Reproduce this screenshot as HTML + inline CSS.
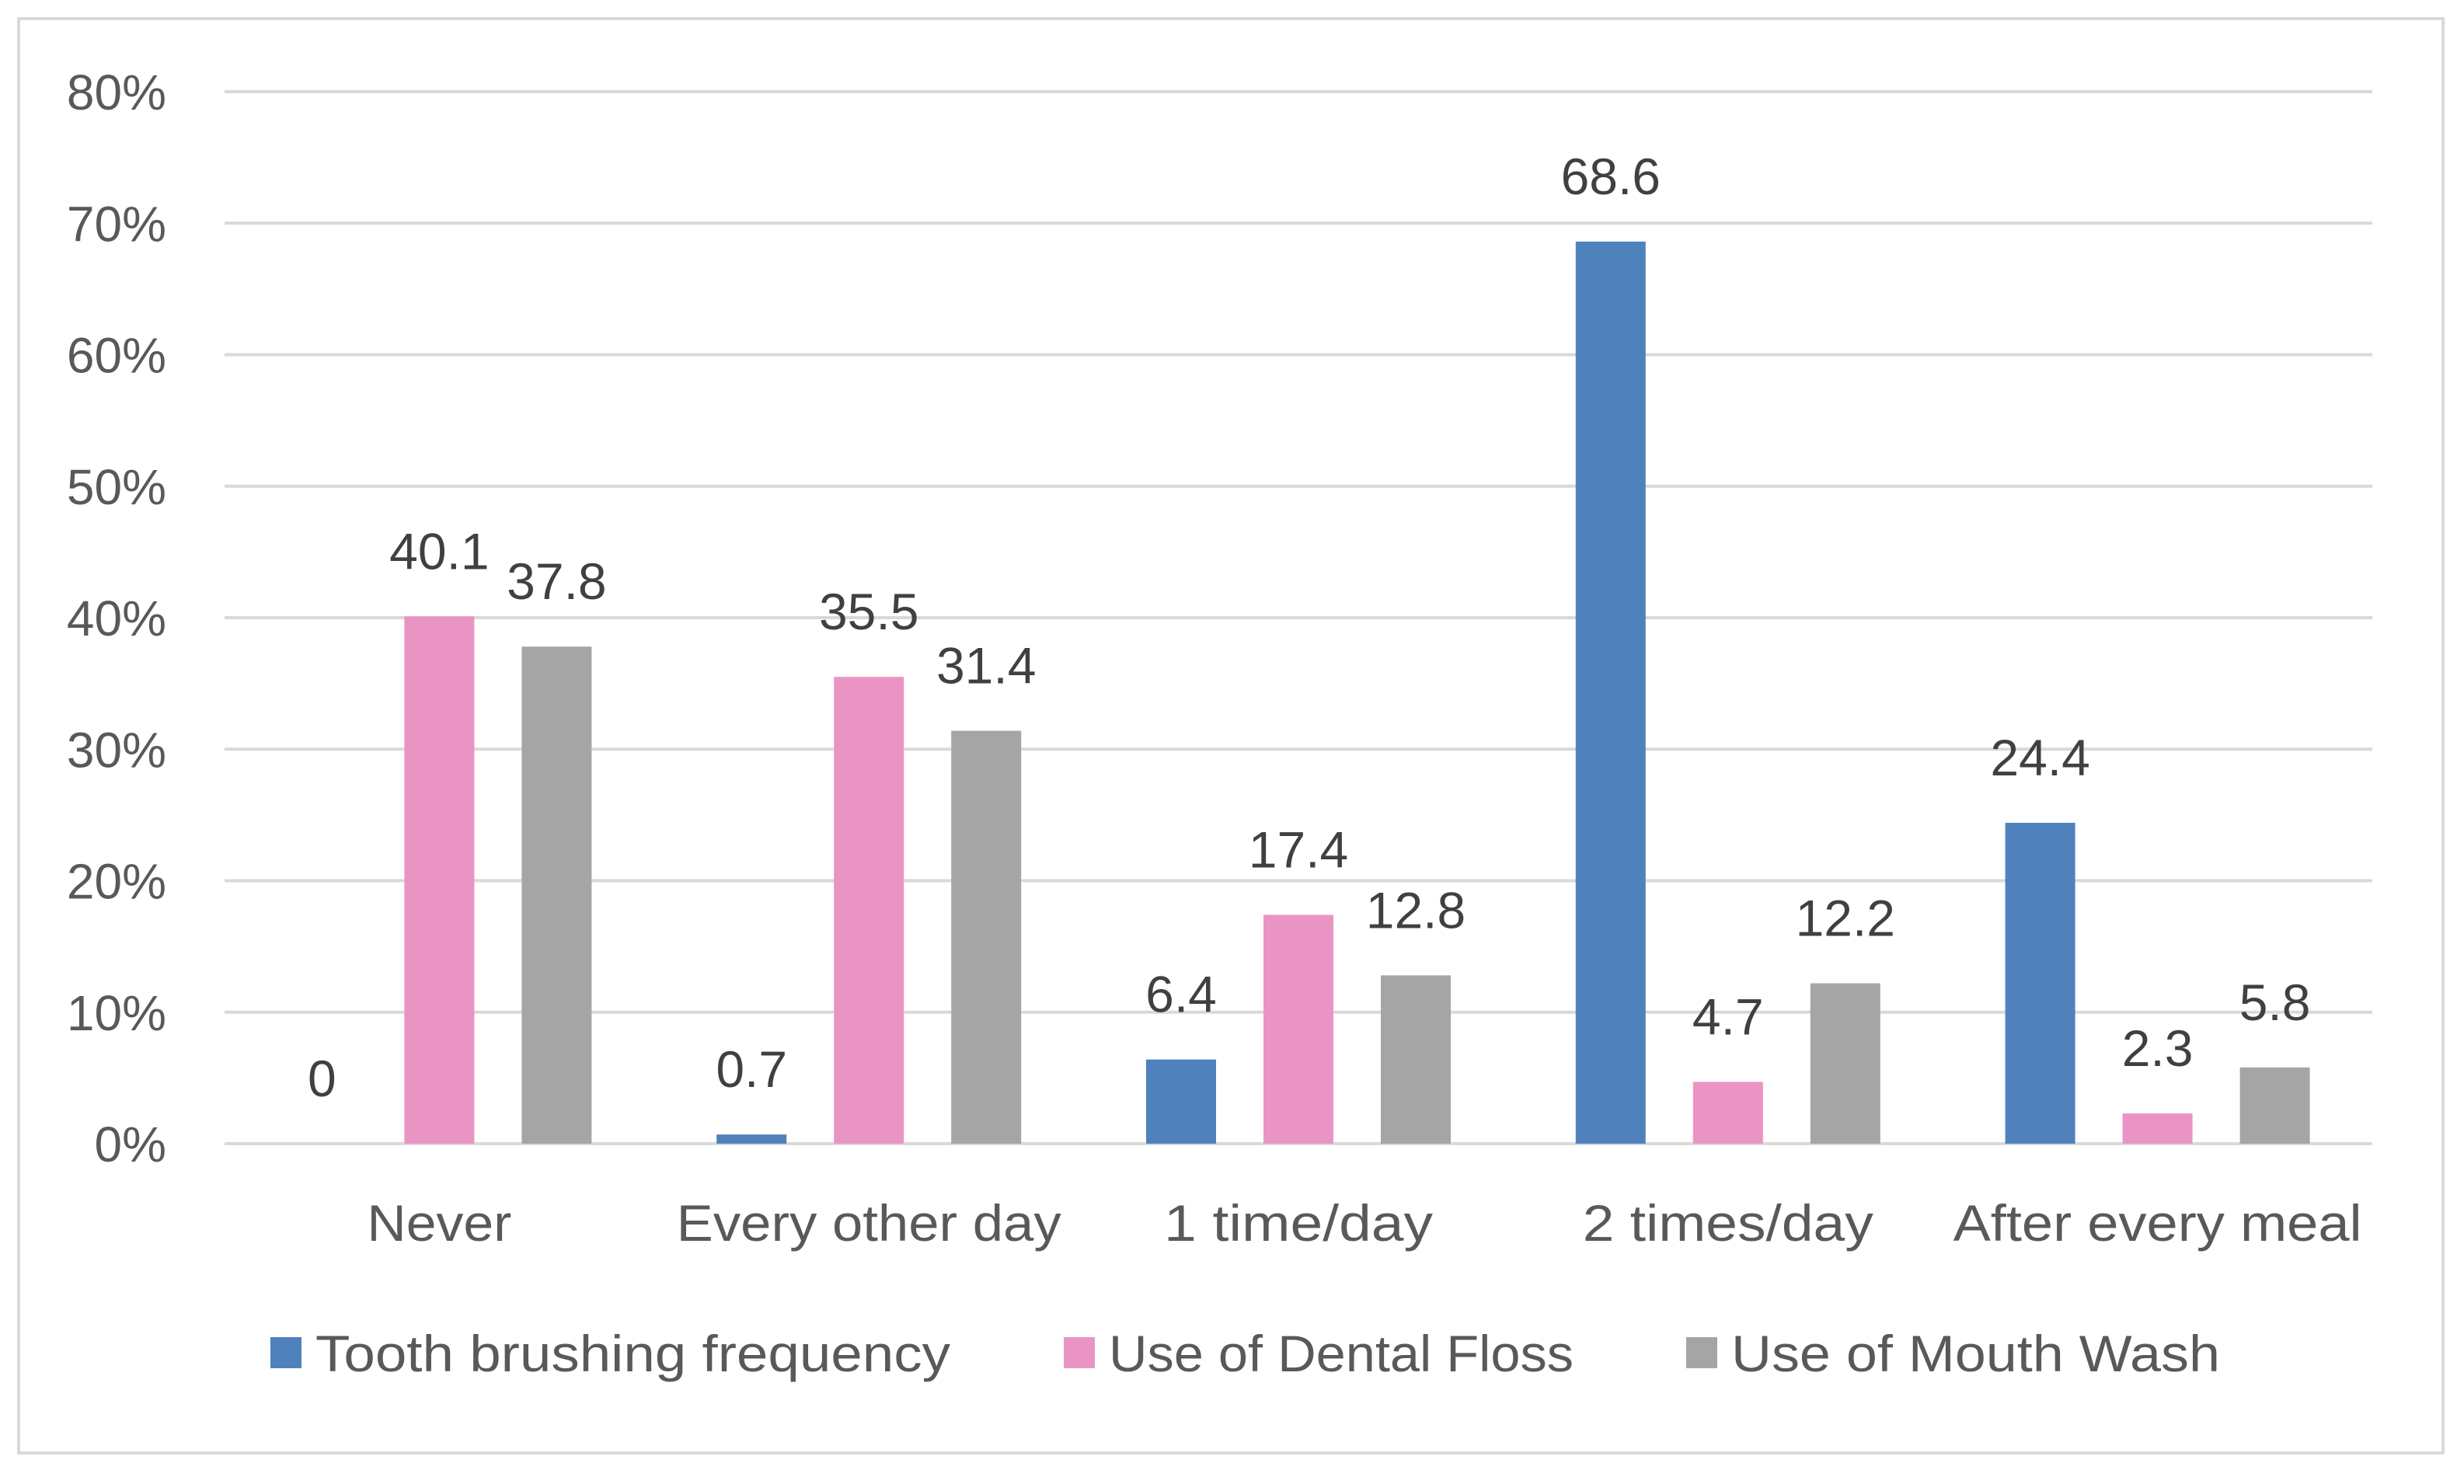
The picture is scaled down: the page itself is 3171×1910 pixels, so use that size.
<!DOCTYPE html>
<html><head><meta charset="utf-8"><style>
html,body{margin:0;padding:0;background:#fff;}
svg{display:block;font-family:"Liberation Sans",sans-serif;}
</style></head><body>
<svg id="chart" width="3171" height="1910" viewBox="0 0 3171 1910" xmlns="http://www.w3.org/2000/svg">
<rect x="24" y="24" width="3120" height="1846" fill="#fff" stroke="#d9d9d9" stroke-width="4"/>
<g id="grid"></g><g id="bars"></g><g id="labels"></g><g id="legend"></g>
</svg>
<script>
const categories = ["Never","Every other day","1 time/day","2 times/day","After every meal"];
const seriesNames = ["Tooth brushing frequency","Use of Dental Floss","Use of Mouth Wash"];
const toothBrushing = [0, 0.7, 6.4, 68.6, 24.4];
const dentalFloss = [40.1, 35.5, 17.4, 4.7, 2.3];
const mouthWash = [37.8, 31.4, 12.8, 12.2, 5.8];
const yTicks = [0,10,20,30,40,50,60,70,80];
const yTickLabels = ["0%","10%","20%","30%","40%","50%","60%","70%","80%"];

const NS="http://www.w3.org/2000/svg";
const colors=["#4f81bd","#ea94c4","#a5a5a5"];
const series=[toothBrushing,dentalFloss,mouthWash];
const catWidths=[186,495,346,374,526];
const legWidths=[817,598,629];
const left=289,right=3053,y0=1472,yTop=118,ymax=80;
const band=(right-left)/categories.length;
const yS=v=>y0-(v/ymax)*(y0-yTop);
const xC=i=>left+band*(i+0.5);
function mk(tag,attrs,parent,text){const e=document.createElementNS(NS,tag);for(const k in attrs)e.setAttribute(k,attrs[k]);if(text!==undefined)e.textContent=text;parent.appendChild(e);return e;}
const grid=document.getElementById('grid'),bars=document.getElementById('bars'),labels=document.getElementById('labels'),legend=document.getElementById('legend');
yTicks.forEach((t,i)=>{
  const l=mk('line',{x1:left,x2:right,y1:yS(t),y2:yS(t),stroke:'#d9d9d9','stroke-width':4},grid);
  
  
  const tx=mk('text',{x:214,y:yS(t)+23,'text-anchor':'end','font-size':64,fill:'#595959'},grid,yTickLabels[i]);
  
  
});
const bw=90,off=151;
categories.forEach((c,i)=>{
  series.forEach((s,j)=>{
    const cx=xC(i)+(j-1)*off, v=s[i];
    const r=mk('rect',{x:cx-bw/2,y:yS(v),width:bw,height:y0-yS(v),fill:colors[j]},bars);
    
    
    const t=mk('text',{x:cx,y:yS(v)-61,'text-anchor':'middle','font-size':66,fill:'#404040'},labels,String(v));
    
    
  });
  const ct=mk('text',{x:xC(i),y:1597,'text-anchor':'middle','font-size':66,fill:'#595959',textLength:catWidths[i],lengthAdjust:'spacingAndGlyphs'},labels,c);
  
  
});
const legX=[348,1369,2170];
seriesNames.forEach((n,j)=>{
  const sq=mk('rect',{x:legX[j],y:1721,width:40,height:40,fill:colors[j]},legend);
  
  
  const t=mk('text',{x:legX[j]+58,y:1765,'font-size':66,fill:'#595959',textLength:legWidths[j],lengthAdjust:'spacingAndGlyphs'},legend,n);
  
  
});
</script>
</body></html>
